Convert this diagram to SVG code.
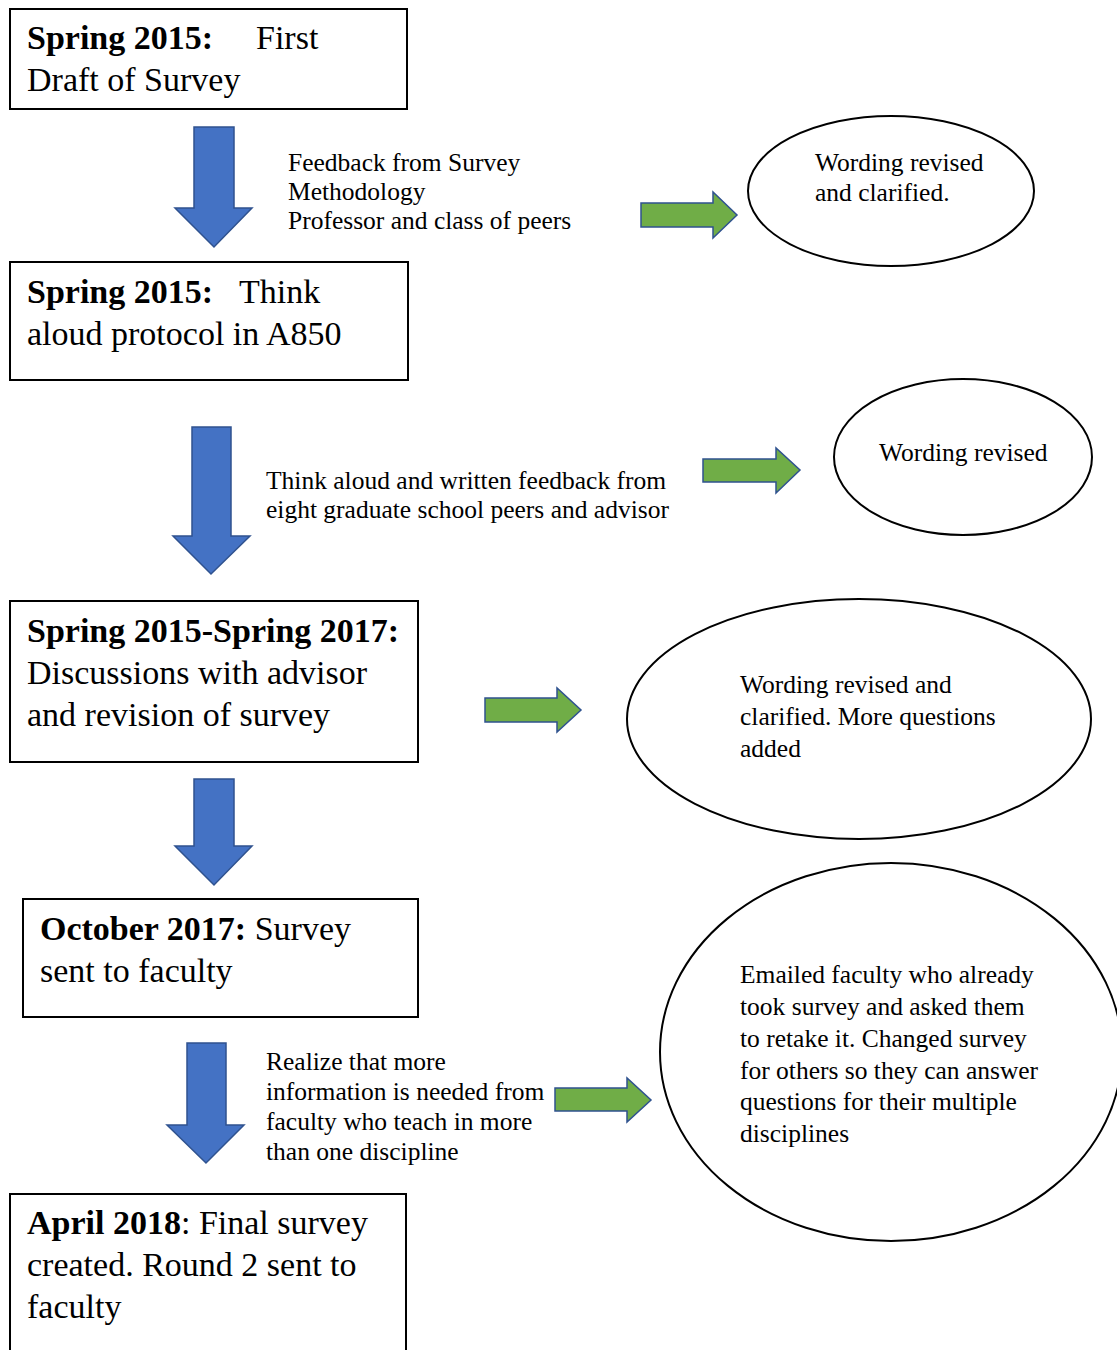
<svg xmlns="http://www.w3.org/2000/svg" width="1117" height="1350" viewBox="0 0 1117 1350">
<style>
.box{fill:#fff;stroke:#000;stroke-width:2}
.oval{fill:#fff;stroke:#000;stroke-width:2}
.big{font-family:"Liberation Serif","Times New Roman",serif;font-size:34px;fill:#000}
.sm{font-family:"Liberation Serif","Times New Roman",serif;font-size:25.5px;fill:#000}
.b{font-weight:bold}
.down{fill:#4472C4;stroke:#2F528F;stroke-width:1.5}
.right{fill:#70AD47;stroke:#2F528F;stroke-width:1.5}
</style>
<rect width="1117" height="1350" fill="#fff"/>

<g id="connectors">
<path class="down" d="M194,127 H234 V208 H252 L214,247 L175,208 H194 Z"/>
<path class="down" d="M192,427 H231 V536 H250 L211,574 L173,536 H192 Z"/>
<path class="down" d="M194,779 H234 V846 H252 L214,885 L175,846 H194 Z"/>
<path class="down" d="M187,1043 H226 V1125 H244 L206,1163 L167,1125 H187 Z"/>
<path class="right" d="M641,203 H713 V192 L737,215 L713,238 V227 H641 Z"/>
<path class="right" d="M703,459 H776 V448 L800,470 L776,493 V482 H703 Z"/>
<path class="right" d="M485,698 H557 V688 L581,710 L557,732 V722 H485 Z"/>
<path class="right" d="M555,1088 H627 V1078 L651,1100 L627,1122 V1111 H555 Z"/>
</g>

<g id="label1">
<text class="sm" x="288" y="171">Feedback from Survey</text>
<text class="sm" x="288" y="200">Methodology</text>
<text class="sm" x="288" y="229">Professor and class of peers</text>
</g>
<g id="label2">
<text class="sm" x="266" y="489">Think aloud and written feedback from</text>
<text class="sm" x="266" y="518">eight graduate school peers and advisor</text>
</g>
<g id="label4">
<text class="sm" x="266" y="1070">Realize that more</text>
<text class="sm" x="266" y="1100">information is needed from</text>
<text class="sm" x="266" y="1130">faculty who teach in more</text>
<text class="sm" x="266" y="1160">than one discipline</text>
</g>

<g id="step1">
<rect class="box" x="10" y="9" width="397" height="100"/>
<text class="big" x="27" y="49"><tspan class="b">Spring 2015:</tspan><tspan x="256">First</tspan></text>
<text class="big" x="27" y="91">Draft of Survey</text>
</g>
<g id="step2">
<rect class="box" x="10" y="262" width="398" height="118"/>
<text class="big" x="27" y="303"><tspan class="b">Spring 2015:</tspan><tspan x="239">Think</tspan></text>
<text class="big" x="27" y="345">aloud protocol in A850</text>
</g>
<g id="step3">
<rect class="box" x="10" y="601" width="408" height="161"/>
<text class="big b" x="27" y="642">Spring 2015-Spring 2017:</text>
<text class="big" x="27" y="684">Discussions with advisor</text>
<text class="big" x="27" y="726">and revision of survey</text>
</g>
<g id="step4">
<rect class="box" x="23" y="899" width="395" height="118"/>
<text class="big" x="40" y="940"><tspan class="b">October 2017:</tspan> Survey</text>
<text class="big" x="40" y="982">sent to faculty</text>
</g>
<g id="step5">
<rect class="box" x="10" y="1194" width="396" height="170"/>
<text class="big" x="27" y="1234"><tspan class="b">April 2018</tspan>: Final survey</text>
<text class="big" x="27" y="1276">created. Round 2 sent to</text>
<text class="big" x="27" y="1318">faculty</text>
</g>

<g id="result1">
<ellipse class="oval" cx="891" cy="191" rx="143" ry="75"/>
<text class="sm" x="815" y="171">Wording revised</text>
<text class="sm" x="815" y="201">and clarified.</text>
</g>
<g id="result2">
<ellipse class="oval" cx="963" cy="457" rx="129" ry="78"/>
<text class="sm" x="879" y="461">Wording revised</text>
</g>
<g id="result3">
<ellipse class="oval" cx="859" cy="719" rx="232" ry="120"/>
<text class="sm" x="740" y="693">Wording revised and</text>
<text class="sm" x="740" y="725">clarified. More questions</text>
<text class="sm" x="740" y="757">added</text>
</g>
<g id="result4">
<ellipse class="oval" cx="891" cy="1052" rx="231" ry="189"/>
<text class="sm" x="740" y="983">Emailed faculty who already</text>
<text class="sm" x="740" y="1015">took survey and asked them</text>
<text class="sm" x="740" y="1047">to retake it. Changed survey</text>
<text class="sm" x="740" y="1079">for others so they can answer</text>
<text class="sm" x="740" y="1110">questions for their multiple</text>
<text class="sm" x="740" y="1142">disciplines</text>
</g>
</svg>
